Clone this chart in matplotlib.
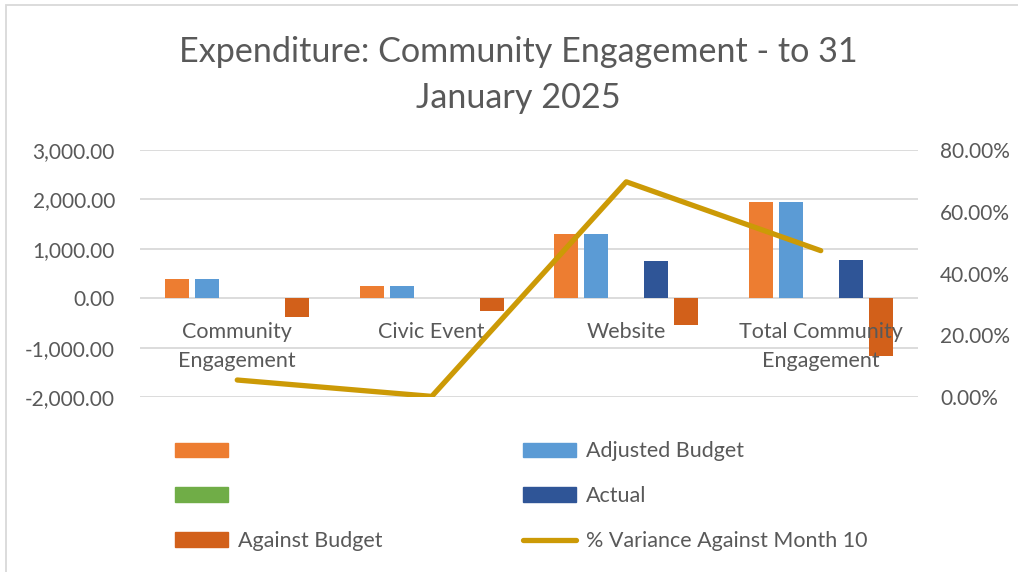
import matplotlib
matplotlib.use("Agg")
import matplotlib.pyplot as plt
from matplotlib.patches import Patch, Rectangle
from matplotlib.lines import Line2D
from matplotlib.ticker import FuncFormatter
import numpy as np

plt.rcParams['font.family'] = ['Lato', 'DejaVu Sans']

categories = ["Community\nEngagement", "Civic Event", "Website", "Total Community\nEngagement"]
budget = [395, 245, 1300, 1940]
adjusted_budget = [395, 245, 1300, 1940]
green_series = [0, 0, 0, 0]
actual = [0, 0, 760, 770]
against_budget = [-390, -255, -540, -1180]
pct_variance = [0.055, 0.002, 0.697, 0.474]

gray = '#595959'
c_budget = '#ED7D31'
c_adj = '#5B9BD5'
c_green = '#70AD47'
c_actual = '#2F5597'
c_against = '#D2601A'
c_line = '#CC9A06'

fig = plt.figure(figsize=(10.18, 5.72), dpi=100)
ax = fig.add_axes([140/1018, 1-397/572, 778/1018, 247/572])

x = np.arange(len(categories))
w = 0.123
step = 0.154
series = [(budget, c_budget), (adjusted_budget, c_adj), (green_series, c_green),
          (actual, c_actual), (against_budget, c_against)]
for k, (vals, col) in enumerate(series):
    ax.bar(x + (k - 2) * step, vals, width=w, color=col, zorder=2)

ax.set_xlim(-0.5, 3.5)
ax.set_ylim(-2000, 3000)
ax.set_yticks([-2000, -1000, 0, 1000, 2000, 3000])
ax.yaxis.set_major_formatter(FuncFormatter(lambda v, p: f"{v:,.2f}"))
ax.grid(axis='y', color='#D9D9D9', linewidth=1.3)
ax.yaxis.set_zorder(0.5)
ax.xaxis.set_zorder(5)
for s in ax.spines.values():
    s.set_visible(False)
ax.spines['bottom'].set_position(('data', 0))
ax.set_xticks(x)
ax.set_xticklabels(categories, linespacing=1.6)
ax.tick_params(axis='x', length=0, pad=17, labelsize=15.5, labelcolor=gray)
ax.tick_params(axis='y', length=0, pad=18, labelsize=15, labelcolor=gray)

ax2 = ax.twinx()
ax2.plot(x, pct_variance, color=c_line, linewidth=3.8, solid_capstyle='round', zorder=3)
ax2.set_ylim(0, 0.8)
ax2.set_yticks([0, 0.2, 0.4, 0.6, 0.8])
ax2.yaxis.set_major_formatter(FuncFormatter(lambda v, p: f"{v*100:.2f}%"))
ax2.tick_params(axis='y', length=0, pad=16, labelsize=15, labelcolor=gray)
for s in ax2.spines.values():
    s.set_visible(False)

fig.text(0.509, 1-62/572, "Expenditure: Community Engagement - to 31",
         ha='center', va='baseline', fontsize=24.6, color=gray)
fig.text(0.509, 1-108/572, "January 2025",
         ha='center', va='baseline', fontsize=24.6, color=gray)

handles = [Patch(color=c_budget), Patch(color=c_green), Patch(color=c_against),
           Patch(color=c_adj), Patch(color=c_actual),
           Line2D([0], [0], color=c_line, linewidth=3.8, solid_capstyle='round')]
labels = ["", "", "Against Budget", "Adjusted Budget", "Actual", "% Variance Against Month 10"]
fig.legend(handles, labels, ncol=2, loc='upper left', bbox_to_anchor=(156/1018, 1-422/572),
           frameon=False, fontsize=15.5, labelcolor=gray, handlelength=2.45,
           handleheight=0.65, handletextpad=0.45, labelspacing=1.15, columnspacing=6.55)

fig.patches.append(Rectangle((6/1018, -0.1), 1.2, 1 - 5/572 + 0.1, transform=fig.transFigure,
                             fill=False, edgecolor='#D9D9D9', linewidth=1.3))

fig.savefig("out.png", dpi=100)
